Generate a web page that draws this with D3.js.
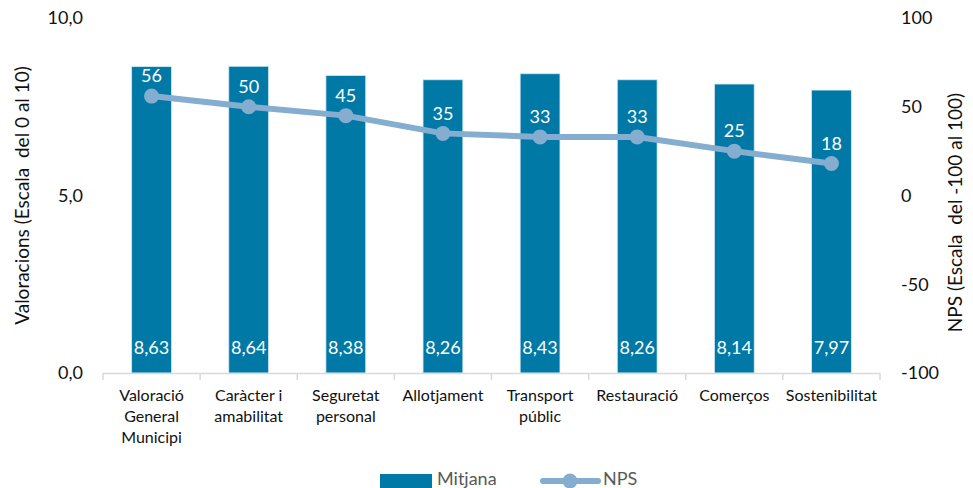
<!DOCTYPE html>
<html>
<head>
<meta charset="utf-8">
<script src="https://cdn.jsdelivr.net/npm/d3@7"></script>
<style>
  body { margin: 0; background: #fff; }
  svg { display: block; font-family: Lato, "Open Sans", sans-serif; }
</style>
</head>
<body>
<svg id="chart" width="973" height="488"></svg>
<script>
const categories = [
  ["Valoració", "General", "Municipi"],
  ["Caràcter i", "amabilitat"],
  ["Seguretat", "personal"],
  ["Allotjament"],
  ["Transport", "públic"],
  ["Restauració"],
  ["Comerços"],
  ["Sostenibilitat"]
];
const mitjana = [8.63, 8.64, 8.38, 8.26, 8.43, 8.26, 8.14, 7.97];
const nps = [56, 50, 45, 35, 33, 33, 25, 18];
const leftTicks = [0, 5, 10];
const rightTicks = [-100, -50, 0, 50, 100];

const svg = d3.select("#chart");
const margin = { left: 103, right: 93, top: 18, bottom: 115 };
const W = 973, H = 488;
const plotW = W - margin.left - margin.right;
const y0 = H - margin.bottom;

const x = d3.scaleBand()
  .domain(d3.range(categories.length))
  .range([margin.left, margin.left + plotW])
  .paddingInner(0.59).paddingOuter(0.295);
const step = plotW / categories.length;
const yL = d3.scaleLinear().domain([0, 10]).range([y0, margin.top]);
const yR = d3.scaleLinear().domain([-100, 100]).range([y0, margin.top]);

const fmt1 = d3.format(".1f");
const comma = s => s.replace(".", ",");

// Bars
svg.append("g").selectAll("rect").data(mitjana).join("rect")
  .attr("x", (d, i) => x(i))
  .attr("width", x.bandwidth())
  .attr("y", d => yL(d))
  .attr("height", d => y0 - yL(d))
  .attr("fill", "#0179a6")
  .attr("stroke", "#d4e8f1")
  .attr("stroke-width", 0.8);

// Bar value labels
svg.append("g").selectAll("text").data(mitjana).join("text")
  .attr("x", (d, i) => x(i) + x.bandwidth() / 2)
  .attr("y", y0 - 25)
  .attr("dy", "0.35em")
  .attr("text-anchor", "middle")
  .attr("fill", "#fff")
  .attr("font-size", 18)
  .text(d => comma(d.toFixed(2)));

// Category axis
const axisG = svg.append("g");
axisG.append("line")
  .attr("x1", margin.left).attr("x2", margin.left + plotW)
  .attr("y1", y0 + 0.5).attr("y2", y0 + 0.5)
  .attr("stroke", "#d9d9d9").attr("stroke-width", 1.5);
axisG.selectAll("line.tick").data(d3.range(categories.length + 1)).join("line")
  .attr("class", "tick")
  .attr("x1", i => margin.left + i * step).attr("x2", i => margin.left + i * step)
  .attr("y1", y0).attr("y2", y0 + 7)
  .attr("stroke", "#d9d9d9").attr("stroke-width", 1.5);
categories.forEach((lines, i) => {
  const t = axisG.append("text")
    .attr("x", x(i) + x.bandwidth() / 2)
    .attr("y", y0 + 28)
    .attr("text-anchor", "middle")
    .attr("font-size", 16)
    .attr("fill", "#111");
  lines.forEach((l, j) => t.append("tspan")
    .attr("x", x(i) + x.bandwidth() / 2)
    .attr("dy", j === 0 ? 0 : 21)
    .text(l));
});

// Left axis labels
svg.append("g").selectAll("text").data(leftTicks).join("text")
  .attr("x", 83).attr("y", d => yL(d)).attr("dy", "0.35em")
  .attr("text-anchor", "end").attr("font-size", 18).attr("fill", "#111")
  .text(d => comma(fmt1(d)));

// Right axis labels
svg.append("g").selectAll("text").data(rightTicks).join("text")
  .attr("x", 901).attr("y", d => yR(d)).attr("dy", "0.35em")
  .attr("text-anchor", "start").attr("font-size", 18).attr("fill", "#111")
  .text(d => d);

// Axis titles
svg.append("text")
  .attr("transform", `translate(29,${(y0 + margin.top) / 2}) rotate(-90)`)
  .attr("text-anchor", "middle").attr("font-size", 19).attr("fill", "#111")
  .attr("xml:space", "preserve")
  .text("Valoracions (Escala  del 0 al 10)");
svg.append("text")
  .attr("transform", `translate(962,${(y0 + margin.top) / 2 + 17}) rotate(-90)`)
  .attr("text-anchor", "middle").attr("font-size", 19).attr("fill", "#111")
  .attr("xml:space", "preserve")
  .text("NPS (Escala  del -100 al 100)");

// NPS line
const lineColor = "#84adcf";
const line = d3.line()
  .x((d, i) => x(i) + x.bandwidth() / 2)
  .y(d => yR(d));
svg.append("path").datum(nps)
  .attr("d", line)
  .attr("fill", "none")
  .attr("stroke", lineColor)
  .attr("stroke-width", 6)
  .attr("stroke-linejoin", "round");
svg.append("g").selectAll("circle").data(nps).join("circle")
  .attr("cx", (d, i) => x(i) + x.bandwidth() / 2)
  .attr("cy", d => yR(d))
  .attr("r", 7.5)
  .attr("fill", lineColor);

// NPS value labels
svg.append("g").selectAll("text").data(nps).join("text")
  .attr("x", (d, i) => x(i) + x.bandwidth() / 2)
  .attr("y", d => yR(d) - 20)
  .attr("dy", "0.35em")
  .attr("text-anchor", "middle")
  .attr("fill", "#fff")
  .attr("font-size", 18)
  .text(d => d);

// Legend
const lg = svg.append("g");
lg.append("rect").attr("x", 380).attr("y", 474).attr("width", 52).attr("height", 16)
  .attr("fill", "#0179a6");
lg.append("text").attr("x", 437).attr("y", 479).attr("dy", "0.35em")
  .attr("font-size", 18).attr("fill", "#595959").text("Mitjana");
lg.append("line").attr("x1", 543).attr("x2", 598).attr("y1", 481).attr("y2", 481)
  .attr("stroke", lineColor).attr("stroke-width", 6).attr("stroke-linecap", "round");
lg.append("circle").attr("cx", 570).attr("cy", 481).attr("r", 7.5).attr("fill", lineColor);
lg.append("text").attr("x", 603).attr("y", 479).attr("dy", "0.35em")
  .attr("font-size", 18).attr("fill", "#595959").text("NPS");
</script>
</body>
</html>
